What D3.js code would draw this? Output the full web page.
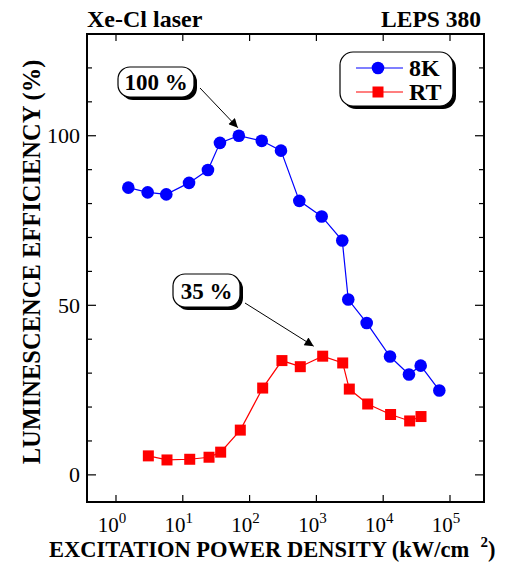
<!DOCTYPE html>
<html>
<head>
<meta charset="utf-8">
<script src="https://cdn.jsdelivr.net/npm/d3@7"></script>
<style>
  html, body { margin: 0; padding: 0; background: #fff; }
  svg { display: block; }
  text { font-family: "Liberation Serif", "Times New Roman", serif; fill: #000; }
</style>
</head>
<body>
<svg id="chart" width="520" height="563"></svg>
<script>
// Excitation power density (kW/cm^2) and luminescence efficiency (%)
const power8K = [1.53, 2.98, 5.66, 12.4, 23.8, 36, 69, 152, 295, 555, 1200, 2440, 3000, 5660, 12650, 24300, 36400, 69200];
const eff8K   = [84.7, 83.3, 82.7, 86.1, 89.9, 97.9, 100, 98.5, 95.6, 80.8, 76.2, 69.1, 51.7, 44.8, 34.9, 29.6, 32.2, 24.9];
const powerRT = [3.05, 5.8, 12.7, 24.7, 36.9, 72.6, 157, 305, 574, 1242, 2477, 3110, 5860, 12900, 24900, 36800];
const effRT   = [5.6, 4.4, 4.6, 5.2, 6.7, 13.2, 25.6, 33.7, 31.9, 35, 33.0, 25.3, 20.9, 17.8, 15.9, 17.2];

const seriesNames = ["8K", "RT"];
const xTickValues = [1, 10, 100, 1000, 10000, 100000];
const xTickExponents = ["0", "1", "2", "3", "4", "5"];
const yMajorTicks = [0, 50, 100];
const yMinorTicks = [-10, 0, 10, 20, 30, 40, 50, 60, 70, 80, 90, 100, 110, 120, 130];
const peakLabels = ["100 %", "35 %"];

const svg = d3.select("#chart");
const plotLeft = 87, plotRight = 484, plotTop = 34, plotBottom = 502;

const x = d3.scaleLog().domain([Math.pow(10, -0.434), Math.pow(10, 5.509)]).range([plotLeft, plotRight]);
const y = d3.scaleLinear().domain([-8, 130]).range([plotBottom, plotTop]);

// inward ticks on all four sides
const ticks = svg.append("g").attr("stroke", "#000").attr("stroke-width", 1.2);
xTickValues.forEach(v => {
  ticks.append("line").attr("x1", x(v)).attr("x2", x(v)).attr("y1", plotBottom).attr("y2", plotBottom - 7);
  ticks.append("line").attr("x1", x(v)).attr("x2", x(v)).attr("y1", plotTop).attr("y2", plotTop + 7);
});
yMinorTicks.filter(v => y(v) > plotTop && y(v) < plotBottom).forEach(v => {
  const len = yMajorTicks.includes(v) ? 9 : 5;
  ticks.append("line").attr("x1", plotLeft).attr("x2", plotLeft + len).attr("y1", y(v)).attr("y2", y(v));
  ticks.append("line").attr("x1", plotRight).attr("x2", plotRight - len).attr("y1", y(v)).attr("y2", y(v));
});

// frame
svg.append("rect").attr("x", plotLeft).attr("y", plotTop).attr("width", plotRight - plotLeft).attr("height", plotBottom - plotTop)
  .attr("fill", "none").attr("stroke", "#000").attr("stroke-width", 2);

// tick labels
xTickValues.forEach((v, i) => {
  const t = svg.append("text").attr("x", x(v) - 4).attr("y", 532).attr("text-anchor", "middle")
    .attr("font-size", 21).text("10");
  t.append("tspan").attr("dy", -9).attr("font-size", 15).text(xTickExponents[i]);
});
yMajorTicks.forEach(v => {
  svg.append("text").attr("x", 80).attr("y", y(v) + 7.5).attr("text-anchor", "end")
    .attr("font-size", 22).text(v);
});

// axis titles
svg.append("text").attr("transform", "translate(40,262) rotate(-90)").attr("text-anchor", "middle")
  .attr("font-size", 24.5).attr("font-weight", "bold").text("LUMINESCENCE EFFICIENCY (%)");
const xt = svg.append("text").attr("x", 49).attr("y", 557).attr("font-size", 22.5).attr("font-weight", "bold")
  .attr("xml:space", "preserve").text("EXCITATION POWER DENSITY (kW/cm  ");
xt.append("tspan").attr("dy", -10).attr("font-size", 15).text("2");
xt.append("tspan").attr("dy", 10).text(")");

// headers
svg.append("text").attr("x", 87).attr("y", 27).attr("font-size", 24).attr("font-weight", "bold").text("Xe-Cl laser");
svg.append("text").attr("x", 481).attr("y", 27).attr("text-anchor", "end").attr("font-size", 23.5).attr("font-weight", "bold").text("LEPS 380");

// series
const line = d3.line().x(d => x(d[0])).y(d => y(d[1]));
const data8K = power8K.map((p, i) => [p, eff8K[i]]);
const dataRT = powerRT.map((p, i) => [p, effRT[i]]);

svg.append("path").datum(data8K).attr("d", line).attr("fill", "none").attr("stroke", "#0000ff").attr("stroke-width", 1.2);
svg.append("path").datum(dataRT).attr("d", line).attr("fill", "none").attr("stroke", "#ff0000").attr("stroke-width", 1.2);

svg.append("g").selectAll("circle").data(data8K).join("circle")
  .attr("cx", d => x(d[0])).attr("cy", d => y(d[1])).attr("r", 6.3).attr("fill", "#0000ff");
svg.append("g").selectAll("rect").data(dataRT).join("rect")
  .attr("x", d => x(d[0]) - 5.5).attr("y", d => y(d[1]) - 5.5).attr("width", 11).attr("height", 11).attr("fill", "#ff0000");

// rounded box with drop shadow
function shadowBox(bx, by, bw, bh, r) {
  svg.append("rect").attr("x", bx + 3).attr("y", by + 3).attr("width", bw).attr("height", bh)
    .attr("rx", r).attr("fill", "#000");
  svg.append("rect").attr("x", bx).attr("y", by).attr("width", bw).attr("height", bh)
    .attr("rx", r).attr("fill", "#fff").attr("stroke", "#000").attr("stroke-width", 1.2);
}

// legend
shadowBox(340, 52, 113, 54, 13);
const legendItems = [{ name: seriesNames[0], color: "#0000ff", shape: "circle" },
                     { name: seriesNames[1], color: "#ff0000", shape: "square" }];
legendItems.forEach((it, i) => {
  const ly = 68 + i * 24;
  svg.append("line").attr("x1", 356).attr("x2", 403).attr("y1", ly).attr("y2", ly)
    .attr("stroke", it.color).attr("stroke-width", 1.2);
  if (it.shape === "circle") {
    svg.append("circle").attr("cx", 378).attr("cy", ly).attr("r", 6.3).attr("fill", it.color);
  } else {
    svg.append("rect").attr("x", 372.5).attr("y", ly - 5.5).attr("width", 11).attr("height", 11).attr("fill", it.color);
  }
  svg.append("text").attr("x", 409).attr("y", ly + 8).attr("font-size", 24).attr("font-weight", "bold").text(it.name);
});

// peak annotations with arrows
svg.append("defs").append("marker").attr("id", "arrow").attr("viewBox", "0 0 10 10")
  .attr("refX", 10).attr("refY", 5).attr("markerWidth", 12).attr("markerHeight", 9)
  .attr("markerUnits", "userSpaceOnUse").attr("orient", "auto")
  .append("path").attr("d", "M0,0 L10,5 L0,10 Z").attr("fill", "#000");

const peak8K = data8K[6], peakRT = dataRT[9];
const notes = [
  { text: peakLabels[0], box: [118, 67, 76, 30], from: [200, 88], to: [x(peak8K[0]) - 1, y(peak8K[1]) - 8] },
  { text: peakLabels[1], box: [173, 274, 67, 33], from: [245, 303], to: [x(peakRT[0]) - 9, y(peakRT[1]) - 10] }
];
notes.forEach(n => {
  const [bx, by, bw, bh] = n.box;
  shadowBox(bx, by, bw, bh, 12);
  svg.append("text").attr("x", bx + bw / 2).attr("y", by + bh / 2 + 8).attr("text-anchor", "middle")
    .attr("font-size", 23).attr("font-weight", "bold").text(n.text);
  svg.append("line").attr("x1", n.from[0]).attr("y1", n.from[1]).attr("x2", n.to[0]).attr("y2", n.to[1])
    .attr("stroke", "#000").attr("stroke-width", 1).attr("marker-end", "url(#arrow)");
});
</script>
</body>
</html>
